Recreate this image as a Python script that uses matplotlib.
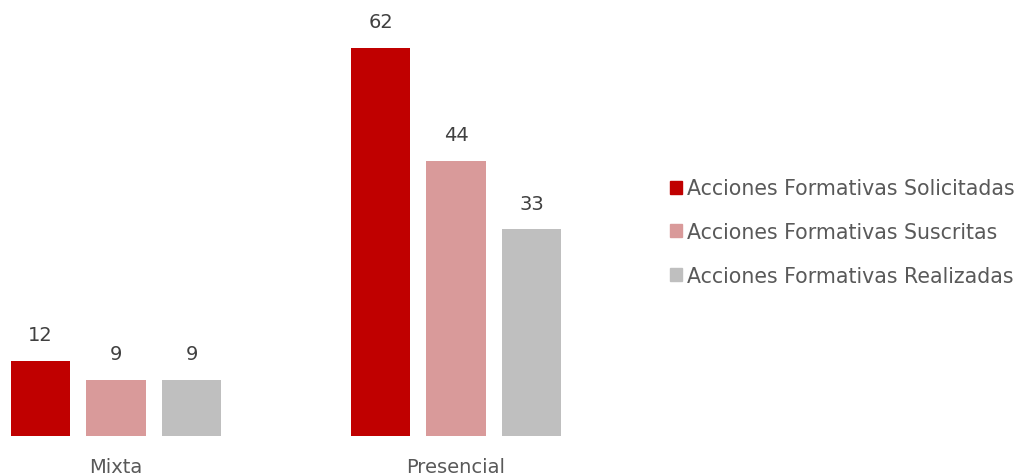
import numpy as np
import matplotlib.pyplot as plt
from matplotlib.patches import Patch

categories = ["Mixta", "Presencial"]
series_names = ["Acciones Formativas Solicitadas",
                "Acciones Formativas Suscritas",
                "Acciones Formativas Realizadas"]
solicitadas = [12, 62]
suscritas = [9, 44]
realizadas = [9, 33]
colors = ["#C00000", "#D99A9A", "#BFBFBF"]

plt.rcParams['font.family'] = ['DejaVu Sans']

W, H = 1026, 477
fig = plt.figure(figsize=(W / 100, H / 100), dpi=100)
# axes spanning pixels 0..620 horizontally, baseline at y=437
ax = fig.add_axes([0, 40 / H, 620 / W, 437 / H])

x = np.arange(len(categories))
width = 0.174
offset = 0.222
for i, (vals, name, c) in enumerate(zip([solicitadas, suscritas, realizadas], series_names, colors)):
    bars = ax.bar(x + (i - 1) * offset, vals, width, color=c, label=name)
    ax.bar_label(bars, padding=12, fontsize=14, color="#404040")

ax.set_xlim(-116 / 340, 504 / 340)
ax.set_ylim(0, 437 / 6.26)
ax.set_xticks(x)
ax.set_xticklabels(categories, fontsize=14, color="#595959")
ax.tick_params(axis='x', length=0, pad=15)
ax.set_yticks([])
for s in ax.spines.values():
    s.set_visible(False)

handles = [Patch(color=c) for c in colors]
fig.legend(handles, series_names, loc='center left', bbox_to_anchor=(651 / W, 1 - 233 / H),
           frameon=False, fontsize=14.8, labelcolor="#595959",
           handlelength=0.6, handleheight=0.6, handletextpad=0.25, labelspacing=1.15)

fig.savefig("out.png", dpi=100)
